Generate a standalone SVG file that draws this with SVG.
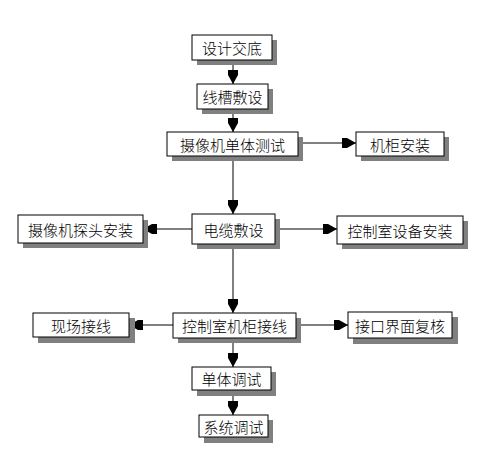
<svg xmlns="http://www.w3.org/2000/svg" width="496" height="462" viewBox="0 0 496 462">
<style>
.sh{fill:#808080}
.bx{fill:#fff;stroke:#000;stroke-width:1}
.t{font-family:"Noto Sans CJK SC","Noto Sans CJK JP",sans-serif;font-size:15px;font-weight:300;fill:#000;text-anchor:middle;dominant-baseline:central}
.c{stroke:#000;stroke-width:1;fill:none;marker-end:url(#ah)}
</style>
<defs>
<marker id="ah" markerUnits="userSpaceOnUse" markerWidth="16" markerHeight="12" viewBox="-15 -6 16 12" refX="0" refY="0" orient="auto">
<path d="M0,0 L-9,-5 L-14,-5 L-14,5 L-9,5 Z" fill="#000"/>
</marker>
</defs>
<rect width="496" height="462" fill="#fff"/>
<g id="connectors">
<line class="c" x1="233" y1="60" x2="233" y2="84"/>
<line class="c" x1="233" y1="109" x2="233" y2="132"/>
<line class="c" x1="233" y1="156" x2="233" y2="214"/>
<line class="c" x1="298" y1="143" x2="356" y2="143"/>
<line class="c" x1="192" y1="229" x2="143" y2="229"/>
<line class="c" x1="275" y1="229" x2="337" y2="229"/>
<line class="c" x1="233" y1="244" x2="233" y2="313"/>
<line class="c" x1="173" y1="325" x2="129" y2="325"/>
<line class="c" x1="296" y1="325" x2="348" y2="325"/>
<line class="c" x1="233" y1="338" x2="233" y2="367"/>
<line class="c" x1="233" y1="390" x2="233" y2="415"/>
</g>
<g id="n1"><rect class="sh" x="197" y="40" width="80" height="25"/><rect class="bx" x="192" y="35" width="80" height="25"/><text class="t" x="232" y="47.5">设计交底</text></g>
<g id="n2"><rect class="sh" x="202" y="89" width="71" height="25"/><rect class="bx" x="197" y="84" width="71" height="25"/><text class="t" x="232.5" y="96.5">线槽敷设</text></g>
<g id="n3"><rect class="sh" x="172" y="137" width="131" height="24"/><rect class="bx" x="167" y="132" width="131" height="24"/><text class="t" x="232.5" y="144">摄像机单体测试</text></g>
<g id="n4"><rect class="sh" x="361" y="137" width="88" height="24"/><rect class="bx" x="356" y="132" width="88" height="24"/><text class="t" x="400" y="144">机柜安装</text></g>
<g id="n5"><rect class="sh" x="197" y="219" width="83" height="30"/><rect class="bx" x="192" y="214" width="83" height="30"/><text class="t" x="233.5" y="229">电缆敷设</text></g>
<g id="n6"><rect class="sh" x="23" y="220" width="125" height="28"/><rect class="bx" x="18" y="215" width="125" height="28"/><text class="t" x="80.5" y="229">摄像机探头安装</text></g>
<g id="n7"><rect class="sh" x="342" y="221" width="126" height="28"/><rect class="bx" x="337" y="216" width="126" height="28"/><text class="t" x="400" y="230">控制室设备安装</text></g>
<g id="n8"><rect class="sh" x="178" y="318" width="123" height="25"/><rect class="bx" x="173" y="313" width="123" height="25"/><text class="t" x="234.5" y="325.5">控制室机柜接线</text></g>
<g id="n9"><rect class="sh" x="38" y="318" width="97" height="25"/><rect class="bx" x="33" y="313" width="96" height="24"/><text class="t" x="81" y="325">现场接线</text></g>
<g id="n10"><rect class="sh" x="353" y="317" width="105" height="27"/><rect class="bx" x="348" y="312" width="104" height="26"/><text class="t" x="400" y="325">接口界面复核</text></g>
<g id="n11"><rect class="sh" x="197" y="372" width="79" height="24"/><rect class="bx" x="192" y="367" width="79" height="23"/><text class="t" x="231.5" y="378.5">单体调试</text></g>
<g id="n12"><rect class="sh" x="204" y="420" width="69" height="23"/><rect class="bx" x="199" y="415" width="69" height="22"/><text class="t" x="233.5" y="426">系统调试</text></g>
</svg>
